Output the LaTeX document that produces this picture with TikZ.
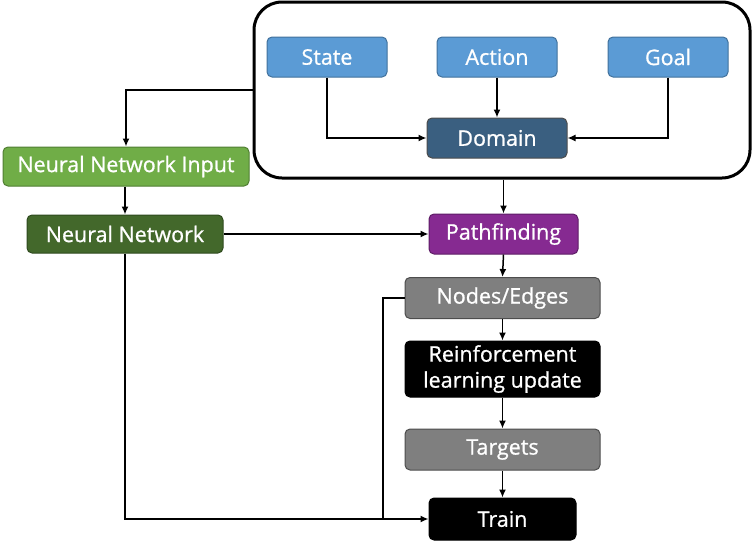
\documentclass[tikz,border=0pt]{standalone}
\usepackage{fontspec}
\setmainfont{Open Sans}[FakeBold=0.9]
\newfontfamily\boxfont{Open Sans}[FakeBold=0.9]
\usetikzlibrary{arrows.meta}
\definecolor{bluebox}{HTML}{5B9BD5}
\definecolor{blueedge}{HTML}{41719C}
\definecolor{dombox}{HTML}{3A5F80}
\definecolor{greenA}{HTML}{70AD47}
\definecolor{greenAedge}{HTML}{507E32}
\definecolor{greenB}{HTML}{43682B}
\definecolor{greenBedge}{HTML}{2E4A1E}
\definecolor{purplebox}{HTML}{862A91}
\definecolor{purpleedge}{HTML}{5E1D66}
\definecolor{graybox}{HTML}{7F7F7F}
\definecolor{grayedge}{HTML}{4D4D4D}
\begin{document}
\begin{tikzpicture}[x=1pt,y=-1pt,
  box/.style={draw, rounded corners=5pt, line width=1pt, text=white, font=\boxfont\fontsize{21.5}{25}\selectfont, align=center, inner sep=0pt},
  bl/.style={box, fill=bluebox, draw=blueedge},
  arr/.style={line width=1.5pt, -{Latex[length=8pt,width=7pt]}},
  ln/.style={line width=1.5pt}]
\useasboundingbox (0,0) rectangle (753,549);
\node[draw, line width=3pt, rounded corners=28pt, minimum width=496pt, minimum height=176pt, inner sep=0pt] (box) at (502,90) {};
\node[bl, minimum width=120pt, minimum height=40pt] (st) at (327,57) {State};
\node[bl, minimum width=120pt, minimum height=40pt] (ac) at (497,57) {Action};
\node[bl, minimum width=120pt, minimum height=40pt] (gl) at (668,57) {Goal};
\node[box, fill=dombox, draw=black!70, minimum width=140pt, minimum height=40pt] (dom) at (497,138) {Domain};
\node[box, fill=greenA, draw=greenAedge, minimum width=246pt, minimum height=39pt] (nni) at (126,166.5) {Neural Network Input};
\node[box, fill=greenB, draw=greenBedge, minimum width=196pt, minimum height=38pt] (nn) at (125,234) {Neural Network};
\node[box, fill=purplebox, draw=purpleedge, minimum width=149pt, minimum height=40pt] (pf) at (503.5,234) {Pathfinding};
\node[box, fill=graybox, draw=grayedge, minimum width=195pt, minimum height=41pt] (ne) at (502.5,298) {Nodes/Edges};
\node[box, fill=black, draw=black, minimum width=195pt, minimum height=56pt, font=\boxfont\fontsize{21.5}{26}\selectfont] (rl) at (502.5,369) {Reinforcement\\learning update};
\node[box, fill=graybox, draw=grayedge, minimum width=195pt, minimum height=41pt] (tg) at (502.5,449.5) {Targets};
\node[box, fill=black, draw=black, minimum width=147pt, minimum height=42pt] (tr) at (502.5,519) {Train};
\coordinate (j) at (383,519);
\draw[arr] (st.south) |- (dom.west);
\draw[arr] (ac.south) -- (dom.north);
\draw[arr] (gl.south) |- (dom.east);
\draw[arr] (box.south -| pf.north) -- (pf.north);
\draw[arr] (box.west) -| (nni.north);
\draw[arr] (nni.south -| nn.north) -- (nn.north);
\draw[arr] (nn.east) -- (pf.west);
\draw[arr] (pf.south) -- (ne.north);
\draw[arr] (ne.south) -- (rl.north);
\draw[arr] (rl.south) -- (tg.north);
\draw[arr] (tg.south) -- (tr.north);
\draw[ln] (ne.west) -| (j);
\draw[arr] (nn.south) |- (tr.west);
\end{tikzpicture}
\end{document}
